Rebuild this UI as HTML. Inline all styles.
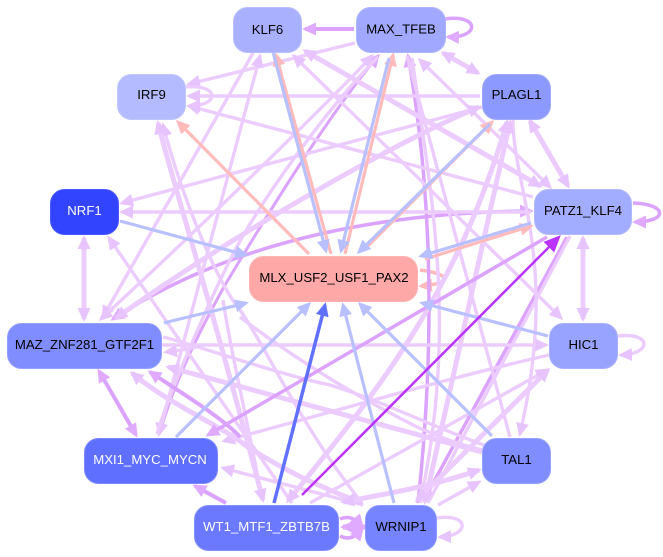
<!DOCTYPE html>
<html><head><meta charset="utf-8"><style>
html,body{margin:0;padding:0;background:#fff;width:663px;height:557px;overflow:hidden}
svg{display:block}
text{font-family:"Liberation Sans",Arial,sans-serif;font-size:13.2px;text-anchor:middle;fill:#000}
text.w{fill:#fff}
path{fill:none;stroke-linecap:butt}
marker path{stroke:none}
.L{stroke:#ecccff}.M{stroke:#e6bcff}.D{stroke:#dba3ff}.B{stroke:#b8c0ff}.P{stroke:#ffbbbb}
</style></head><body>
<svg width="663" height="557" viewBox="0 0 663 557" xmlns="http://www.w3.org/2000/svg">
<defs>
<marker id="aL" markerUnits="userSpaceOnUse" markerWidth="16" markerHeight="14" refX="11" refY="7" orient="auto-start-reverse"><path d="M0,.5L14,7L0,13.5z" style="fill:#e8c4ff"/></marker>
<marker id="aD" markerUnits="userSpaceOnUse" markerWidth="16" markerHeight="14" refX="11" refY="7" orient="auto-start-reverse"><path d="M0,.5L14,7L0,13.5z" style="fill:#dfaaff"/></marker>
<marker id="aB" markerUnits="userSpaceOnUse" markerWidth="16" markerHeight="14" refX="11" refY="7" orient="auto-start-reverse"><path d="M0,.5L14,7L0,13.5z" style="fill:#b8c0ff"/></marker>
<marker id="aP" markerUnits="userSpaceOnUse" markerWidth="16" markerHeight="14" refX="11" refY="7" orient="auto-start-reverse"><path d="M0,.5L14,7L0,13.5z" style="fill:#ffbbbb"/></marker>
<marker id="aX" markerUnits="userSpaceOnUse" markerWidth="16" markerHeight="14" refX="11" refY="7" orient="auto-start-reverse"><path d="M0,.5L14,7L0,13.5z" style="fill:#6070ff"/></marker>
<marker id="aV" markerUnits="userSpaceOnUse" markerWidth="20" markerHeight="16" refX="13" refY="8" orient="auto-start-reverse"><path d="M0,.5L17,8L0,15.5z" style="fill:#bb33ff"/></marker>
</defs>

<path class="P" stroke-width="3.5" d="M420,270C452,274 452,284 421,286" marker-end="url(#aP)"/>

<!-- darker purple under-layer -->
<g stroke-width="3.5">
<path class="D" d="M531,211C400,212 240,235 113,319" marker-start="url(#aD)" marker-end="url(#aD)"/>
<path class="D" d="M378,56C330,113 270,210 225,285C200,330 175,380 160,432" stroke-width="3" marker-start="url(#aD)"/>
<path class="D" d="M408,56C425,150 440,300 418,503" marker-start="url(#aD)"/>
<path class="D" d="M567,237L424,500" marker-end="url(#aD)"/>
</g>

<!-- light / medium edges -->
<g stroke-width="3.4">
<path class="L" d="M355,43L189,84" marker-end="url(#aL)"/>
<path class="L" d="M480,96L189,96" marker-end="url(#aL)"/>
<path class="L" d="M533,197L189,106" marker-end="url(#aL)"/>
<path class="L" d="M253,53L103,317" marker-end="url(#aL)"/>
<path class="L" d="M260,56L159,434" marker-start="url(#aL)" marker-end="url(#aL)"/>
<path class="L" d="M294,56L561,318" marker-start="url(#aL)" marker-end="url(#aL)"/>
<path class="L" d="M372,56C345,85 230,200 101,319" marker-start="url(#aL)" marker-end="url(#aL)"/>
<path class="L" d="M378,57C330,105 260,200 230,260C210,300 170,390 157,434"/>
<path class="L" d="M482,107L122,203" marker-end="url(#aL)"/>
<path class="L" d="M531,212L122,212" marker-end="url(#aL)"/>
<path class="L" d="M109,238L207,380L292,503" marker-start="url(#aL)"/>
<path class="L" d="M162,345L546,345" marker-end="url(#aL)"/>
<path class="L" d="M205,345Q185,350 166,352" marker-end="url(#aL)"/>
<path class="L" d="M163,337C190,343 280,375 330,385C380,400 440,430 484,445"/>
<path class="L" d="M549,355C440,380 340,410 224,441" marker-end="url(#aL)"/>
<path class="L" d="M363,505L223,468" marker-end="url(#aL)"/>
<path class="L" d="M163,125C180,190 215,280 240,310C265,345 300,425 362,503" marker-start="url(#aL)"/>
<path class="L" d="M223,300C232,360 250,430 262,500"/>
<path class="L" d="M240,317C270,340 330,383 417,427C440,437 460,445 482,450"/>
<path class="L" d="M420,60L550,187" marker-start="url(#aL)" marker-end="url(#aL)"/>
<path class="L" d="M513,120C513,190 560,260 520,434" marker-end="url(#aL)"/>
<path class="L" d="M412,58C432,200 458,330 420,503"/>
<path class="L" d="M310,503L547,370" marker-end="url(#aL)"/>
<path class="L" d="M438,505L479,482" marker-end="url(#aL)"/>
<path class="L" d="M570,236L428,503"/>
<path class="L" d="M510,437L407,56"/>
<path class="L" d="M618,336C652,332 652,354 621,355" marker-end="url(#aL)"/>
<path class="L" d="M437,518C470,513 470,536 440,537" marker-end="url(#aL)"/>
<path class="L" d="M186,87C220,84 220,106 189,106" marker-end="url(#aL)"/>
</g>
<g stroke-width="5">
<path class="L" d="M305,51L540,186" marker-start="url(#aL)" marker-end="url(#aL)"/>
<path class="L" d="M158,123C172,180 205,280 263,500" marker-start="url(#aL)" marker-end="url(#aL)"/>
<path class="L" d="M479,107C400,140 240,230 116,318" marker-start="url(#aL)" marker-end="url(#aL)"/>
<path class="L" d="M530,121L568,186" marker-start="url(#aL)" marker-end="url(#aL)"/>
<path class="L" d="M84,238L84,319" marker-start="url(#aL)" marker-end="url(#aL)"/>
<path class="L" d="M583,238L583,319" marker-start="url(#aL)" marker-end="url(#aL)"/>
<path class="L" d="M443,53L478,73" marker-start="url(#aL)" marker-end="url(#aL)"/>
<path class="L" d="M482,452L168,367" marker-end="url(#aL)"/>
<path class="L" d="M132,373C170,405 220,425 245,445C290,475 330,490 361,503" marker-start="url(#aL)" marker-end="url(#aL)"/>
<path class="L" d="M510,122L425,502" marker-start="url(#aL)" marker-end="url(#aL)"/>
<path class="L" d="M507,122C455,300 370,400 288,501" marker-start="url(#aL)" marker-end="url(#aL)"/>
<path class="L" d="M548,370L417,500" marker-start="url(#aL)" marker-end="url(#aL)"/>
<path class="L" d="M479,470C430,487 380,495 343,502" marker-start="url(#aL)" marker-end="url(#aL)"/>
</g>

<!-- darker purple edges on top -->
<g stroke-width="3.5">
<path class="D" d="M354,29L305,29" stroke-width="4" marker-end="url(#aD)"/>
<path class="D" d="M445,19C480,14 480,38 448,37" marker-end="url(#aD)"/>
<path class="D" d="M633,203C668,204 668,222 635,222" marker-end="url(#aD)"/>
<path class="D" d="M99,371L136,435" stroke-width="4" marker-start="url(#aD)" marker-end="url(#aD)"/>
<path class="D" d="M150,372C185,395 225,420 240,437" stroke-width="4" marker-start="url(#aD)"/>
<path class="D" d="M195,486L226,503" stroke-width="4" marker-start="url(#aD)"/>
<path class="D" d="M547,237L208,435" marker-end="url(#aD)"/>
<path class="D" d="M340,519Q352,514 362,526" marker-end="url(#aD)"/>
<path class="D" d="M340,536Q352,542 362,529" marker-end="url(#aD)"/>
<path class="D" d="M365,527L343,527" stroke-width="5" marker-start="url(#aD)" marker-end="url(#aD)"/>
</g>

<!-- pink edges -->
<g stroke-width="3.2">
<path class="P" d="M309,254L178,122" marker-end="url(#aP)"/>
<path class="P" d="M331,254L276,55" marker-end="url(#aP)"/>
<path class="P" d="M345,254L393,55" marker-end="url(#aP)"/>
<path class="P" d="M368,246L492,122" marker-end="url(#aP)"/>
<path class="P" d="M425,259L531,226" marker-end="url(#aP)"/>
</g>

<!-- blue edges -->
<g stroke-width="3.2">
<path class="B" d="M273,52L326,251" marker-end="url(#aB)"/>
<path class="B" d="M389,58L341,251" marker-end="url(#aB)"/>
<path class="B" d="M490,124L359,252" marker-end="url(#aB)"/>
<path class="B" d="M531,223L421,256" marker-end="url(#aB)"/>
<path class="B" d="M120,221L246,255" marker-end="url(#aB)"/>
<path class="B" d="M164,323C190,316 220,310 246,303" marker-end="url(#aB)"/>
<path class="B" d="M176,437L309,304" marker-end="url(#aB)"/>
<path class="B" d="M394,503L343,305" marker-end="url(#aB)"/>
<path class="B" d="M492,436L360,304" marker-end="url(#aB)"/>
<path class="B" d="M548,336L422,303" marker-end="url(#aB)"/>
</g>
<path d="M274,503L325,305" style="stroke:#6070ff" stroke-width="3.5" marker-end="url(#aX)"/>
<path d="M302,495L558,238" style="stroke:#bb33ff" stroke-width="2.5" marker-end="url(#aV)"/>

<!-- nodes -->
<g stroke-width="1">
<rect x="233.500" y="7.500" width="68" height="45" rx="14" fill="#a9b1ff" stroke="#b8beff"/>
<rect x="356.500" y="7.500" width="89" height="45" rx="14" fill="#a0a9ff" stroke="#aeb6ff"/>
<rect x="117.500" y="74.500" width="68" height="45" rx="14" fill="#b4bbff" stroke="#c0c6ff"/>
<rect x="482.500" y="74.500" width="68" height="45" rx="14" fill="#8c99ff" stroke="#a0aaff"/>
<rect x="534.500" y="189.500" width="97" height="45" rx="14" fill="#a3adff" stroke="#b2baff"/>
<rect x="50.500" y="189.500" width="68" height="45" rx="14" fill="#3344ff" stroke="#4a5aff"/>
<rect x="249.500" y="256.500" width="168" height="45" rx="14" fill="#ffa8a8" stroke="#ffb4b4"/>
<rect x="7.500" y="323.500" width="154" height="45" rx="14" fill="#808dff" stroke="#95a0ff"/>
<rect x="549.500" y="323.500" width="68" height="45" rx="14" fill="#98a3ff" stroke="#a8b1ff"/>
<rect x="84.500" y="438.500" width="133" height="45" rx="14" fill="#5f6fff" stroke="#7c89ff"/>
<rect x="482.500" y="438.500" width="68" height="45" rx="14" fill="#808dff" stroke="#95a0ff"/>
<rect x="194.500" y="505.500" width="144" height="45" rx="14" fill="#6a79ff" stroke="#8390ff"/>
<rect x="365.500" y="505.500" width="71" height="45" rx="14" fill="#7685ff" stroke="#8e9aff"/>
</g>
<text x="267.500" y="34">KLF6</text>
<text x="401" y="33.500">MAX_TFEB</text>
<text x="151.500" y="99">IRF9</text>
<text x="516.500" y="99">PLAGL1</text>
<text x="583" y="215">PATZ1_KLF4</text>
<text class="w" x="84.500" y="215">NRF1</text>
<text x="334" y="282">MLX_USF2_USF1_PAX2</text>
<text x="84.500" y="349">MAZ_ZNF281_GTF2F1</text>
<text x="583.500" y="349">HIC1</text>
<text class="w" x="150" y="464">MXI1_MYC_MYCN</text>
<text x="516.500" y="464">TAL1</text>
<text class="w" x="266.500" y="531">WT1_MTF1_ZBTB7B</text>
<text x="401" y="531">WRNIP1</text>
</svg>
</body></html>
